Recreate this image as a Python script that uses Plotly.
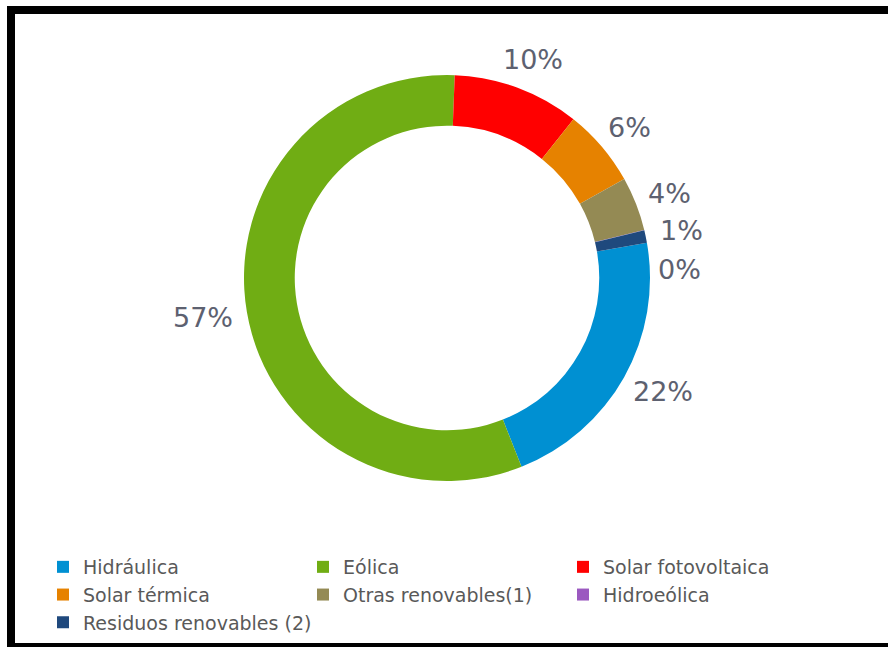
import math
import plotly.graph_objects as go

labels = ["Hidráulica", "Eólica", "Solar fotovoltaica", "Solar térmica",
          "Otras renovables(1)", "Hidroeólica", "Residuos renovables (2)"]
values = [21.8, 56.6, 10.1, 6.2, 4.3, 0.02, 1.0]
colors = ["#0090d2", "#70ad14", "#ff0000", "#e68200", "#948a54", "#9b59c0", "#1f497d"]

W, H = 888, 647
cx, cy, R = 447, 278, 203
ROT = 80          # start angle of first slice, clockwise from 12 o'clock
LBL_FS = 27
LBL_GAP = 15

fig = go.Figure(go.Pie(
    labels=labels, values=values, sort=False, direction="clockwise",
    rotation=ROT, hole=0.75,
    marker=dict(colors=colors, line=dict(width=0)),
    textinfo="none",
    domain=dict(x=[(cx - R) / W, (cx + R) / W], y=[1 - (cy + R) / H, 1 - (cy - R) / H]),
    hoverinfo="label+percent",
))

# percentage labels outside the ring, placed from the slice mid-angles
total = sum(values)
cum = 0.0
placed = []
items = []
for i, v in enumerate(values):
    mid = ROT + (cum + v / 2) / total * 360
    cum += v
    items.append((i, v, mid))
# zero-value labels are placed last (lowest priority)
items.sort(key=lambda t: (t[1] < 0.5, t[0]))
lh = LBL_FS * 1.1
for i, v, mid in items:
    txt = f"{round(v / total * 100):d}%"
    w = LBL_FS * (0.636 * (len(txt) - 1) + 0.95)
    th = math.radians(mid)
    ux, uy = math.sin(th), -math.cos(th)
    px = cx + ux * (R + LBL_GAP) + ux * w / 2
    py = cy + uy * (R + LBL_GAP) + uy * lh / 2
    moved = True
    while moved:
        moved = False
        for (qx, qy, qw) in placed:
            if abs(px - qx) < (w + qw) / 2 and abs(py - qy) < lh:
                py = qy + lh + 9
                moved = True
    placed.append((px, py, w))
    fig.add_annotation(x=px / W, y=1 - py / H, xref="paper", yref="paper",
                       text=txt, showarrow=False, xanchor="center", yanchor="middle",
                       font=dict(family="DejaVu Sans", size=LBL_FS, color="#5d6170"))

fig.update_layout(
    width=W, height=H,
    margin=dict(l=0, r=0, t=0, b=0),
    paper_bgcolor="white",
    showlegend=True,
    legend=dict(orientation="h", x=43 / W, xanchor="left", y=1 - 548 / H, yanchor="top",
                entrywidth=215, font=dict(family="DejaVu Sans", size=19, color="#595959"),
                itemwidth=30),
    shapes=[dict(type="rect", xref="paper", yref="paper", x0=11 / W, x1=1.05, y0=0, y1=1 - 10 / H,
                 line=dict(color="black", width=8), fillcolor="rgba(0,0,0,0)")],
)

fig.write_html("out.html")
